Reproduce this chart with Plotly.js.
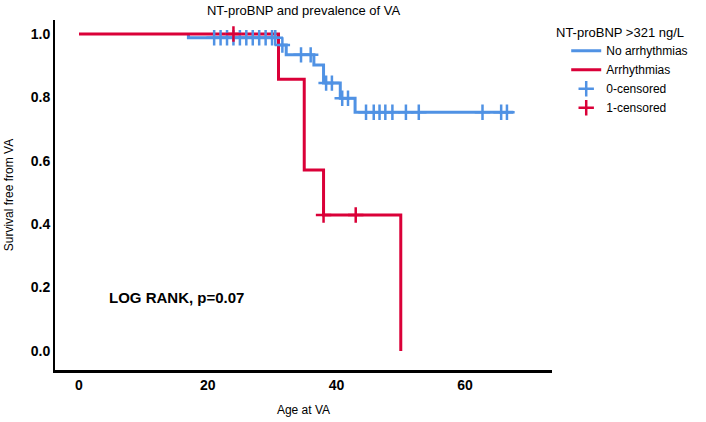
<!DOCTYPE html>
<html>
<head>
<meta charset="utf-8">
<script src="https://cdn.plot.ly/plotly-3.0.1.min.js"></script>
<style>html,body{margin:0;padding:0;background:#fff;}#chart{width:706px;height:422px;}</style>
</head>
<body>
<div id="chart"></div>
<script>
// Kaplan-Meier step points (time, survival)
const noArrTimes = [17, 17, 31, 32.2, 36.5, 38, 40.6, 42.9, 67.5];
const noArrSurv  = [1.0, 0.988, 0.965, 0.934, 0.902, 0.845, 0.797, 0.753, 0.753];
const arrTimes   = [0, 31, 35, 38, 50];
const arrSurv    = [1.0, 0.857, 0.571, 0.429, 0.0];
// Censored observations
const noArrCensX = [21, 22, 23, 24, 25, 26, 27, 28, 29, 30, 30.5, 31.6, 34.5, 36, 38.4, 39.3, 40.9, 41.8, 44.6, 45.8, 46.7, 47.6, 48.7, 50.8, 52.8, 62.7, 65.6, 66.5];
const noArrCensY = [0.988, 0.988, 0.988, 0.988, 0.988, 0.988, 0.988, 0.988, 0.988, 0.988, 0.988, 0.965, 0.934, 0.934, 0.845, 0.845, 0.797, 0.797, 0.753, 0.753, 0.753, 0.753, 0.753, 0.753, 0.753, 0.753, 0.753, 0.753];
const arrCensX = [24, 38, 43];
const arrCensY = [1.0, 0.429, 0.429];
const xTicks = [0, 20, 40, 60];
const yTicks = [0.0, 0.2, 0.4, 0.6, 0.8, 1.0];
const yTickText = ['0.0', '0.2', '0.4', '0.6', '0.8', '1.0'];

const blue = 'rgb(80,146,228)';
const red = 'rgb(218,0,56)';

const traces = [
  {x: noArrTimes, y: noArrSurv, mode: 'lines', line: {shape: 'hv', color: blue, width: 3}, name: 'No arrhythmias'},
  {x: arrTimes, y: arrSurv, mode: 'lines', line: {shape: 'hv', color: red, width: 3}, name: 'Arrhythmias'},
  {x: noArrCensX, y: noArrCensY, mode: 'markers', marker: {symbol: 'cross-thin', size: 11, line: {color: blue, width: 2.5}}, name: '0-censored'},
  {x: arrCensX, y: arrCensY, mode: 'markers', marker: {symbol: 'cross-thin', size: 11, line: {color: red, width: 2.5}}, name: '1-censored'}
];

const layout = {
  width: 706, height: 422,
  margin: {l: 55, r: 154, t: 20, b: 52},
  paper_bgcolor: '#fff', plot_bgcolor: '#fff',
  font: {family: 'Liberation Sans, Arial, sans-serif', color: '#000'},
  title: {text: 'NT-proBNP and prevalence of VA', font: {size: 13, color: '#000'}, x: 0.43, xanchor: 'center', y: 0.976, yanchor: 'middle', yref: 'container'},
  xaxis: {range: [-3.73, 73.5], tickvals: xTicks, ticktext: xTicks.map(String), showgrid: false, zeroline: false,
          showline: true, linecolor: '#000', linewidth: 3, ticks: '',
          tickfont: {size: 14, family: 'Liberation Sans, Arial, sans-serif', weight: 'bold'},
          title: {text: 'Age at VA', font: {size: 12}, standoff: 14}},
  yaxis: {range: [-0.06, 1.044], tickvals: yTicks, ticktext: yTickText, showgrid: false, zeroline: false,
          showline: true, linecolor: '#000', linewidth: 2, ticks: '',
          tickfont: {size: 14, family: 'Liberation Sans, Arial, sans-serif', weight: 'bold'},
          title: {text: 'Survival free from VA', font: {size: 12}, standoff: 15}},
  showlegend: true,
  legend: {xref: 'container', yref: 'container', x: 0.802, xanchor: 'left', y: 0.914, yanchor: 'top', font: {size: 12}, itemwidth: 30, tracegroupgap: 0, bgcolor: 'rgba(0,0,0,0)'},
  annotations: [
    {xref: 'paper', yref: 'paper', x: 1.137, y: 0.963, xanchor: 'center', yanchor: 'middle', showarrow: false, text: 'NT-proBNP >321 ng/L', font: {size: 13}},
    {xref: 'x', yref: 'y', x: 4.3, y: 0.17, xanchor: 'left', yanchor: 'middle', showarrow: false, text: '<b>LOG RANK, p=0.07</b>', font: {size: 15}}
  ]
};

Plotly.newPlot('chart', traces, layout, {displayModeBar: false, staticPlot: true});
</script>
</body>
</html>
